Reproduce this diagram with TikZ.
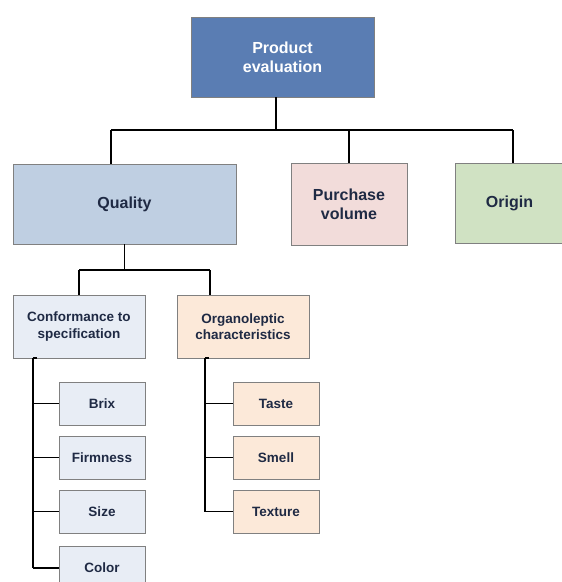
\documentclass[tikz,border=0pt]{standalone}
\usepackage{fontspec}
\setmainfont{Liberation Sans}
\definecolor{txt}{HTML}{1F2A44}
\definecolor{bord}{HTML}{808080}
\definecolor{cprod}{HTML}{5A7DB3}
\definecolor{cqual}{HTML}{BFCFE2}
\definecolor{cpurch}{HTML}{F2DCDA}
\definecolor{corig}{HTML}{D0E2C3}
\definecolor{cconf}{HTML}{E8EDF5}
\definecolor{corg}{HTML}{FCE9D9}
\begin{document}
\begin{tikzpicture}[x=1pt,y=-1pt,
  box/.style={draw=bord,line width=0.9pt,inner sep=0pt,align=center,font=\bfseries,text=txt},
  conn/.style={draw=black,line width=1.4pt},
  big/.style={box,font=\bfseries\fontsize{16}{19}\selectfont},
  mid/.style={box,font=\bfseries\fontsize{13.5}{16.5}\selectfont},
  small/.style={box,font=\bfseries\fontsize{13.5}{16}\selectfont,minimum width=86pt,minimum height=43pt}]
\useasboundingbox (0,0) rectangle (562,582);
\clip (0,0) rectangle (562,582);
\node[big,fill=cprod,text=white,minimum width=183pt,minimum height=80pt] (prod) at (282.5,57) {Product\\evaluation};
\node[big,fill=cqual,minimum width=223pt,minimum height=80pt] (qual) at (124.5,204) {Quality};
\node[big,fill=cpurch,minimum width=116pt,minimum height=82pt] (purch) at (349,204) {Purchase\\volume};
\node[big,fill=corig,minimum width=109pt,minimum height=80pt] (orig) at (509.5,203) {Origin};
\node[mid,fill=cconf,minimum width=132pt,minimum height=63pt] (conf) at (79,326.5) {Conformance to\\specification};
\node[mid,fill=corg,minimum width=132pt,minimum height=63pt] (org) at (243,326.5) {Organoleptic\\characteristics};
\node[small,fill=cconf] (brix) at (102,403.5) {Brix};
\node[small,fill=cconf] (firm) at (102,457.5) {Firmness};
\node[small,fill=cconf] (size) at (102,511.5) {Size};
\node[small,fill=cconf,minimum height=44pt] (color) at (102,568) {Color};
\node[small,fill=corg] (taste) at (276,403.5) {Taste};
\node[small,fill=corg] (smell) at (276,457.5) {Smell};
\node[small,fill=corg] (text) at (276,511.5) {Texture};
% top bus
\coordinate (bt) at (276,130);
\coordinate (bq) at (111,130);
\coordinate (bp) at (349,130);
\coordinate (bo) at (513,130);
\draw[conn] (bt |- prod.south) -- (bt);
\draw[conn] (bq) -- (bo);
\draw[conn] (bq) -- (bq |- qual.north);
\draw[conn] (bp) -- (bp |- purch.north);
\draw[conn] (bo) -- (bo |- orig.north);
% quality bus
\coordinate (qc) at (79,270);
\coordinate (qo) at (210,270);
\draw[conn] (qual.south) -- (qual.south |- qc);
\draw[conn] (qc) -- (qo);
\draw[conn] (qc) -- (qc |- conf.north);
\draw[conn] (qo) -- (qo |- org.north);
% left spine
\coordinate (sl) at (33,358);
\draw[conn] (sl) -- (sl |- color);
\draw[conn] (sl) -- ++(4,0);
\foreach \n in {brix,firm,size,color}{\draw[conn] (sl |- \n) -- (\n.west);}
% right spine
\coordinate (sr) at (205,358);
\draw[conn] (sr) -- (sr |- text);
\draw[conn] (sr) -- ++(4,0);
\foreach \n in {taste,smell,text}{\draw[conn] (sr |- \n) -- (\n.west);}
\end{tikzpicture}
\end{document}
